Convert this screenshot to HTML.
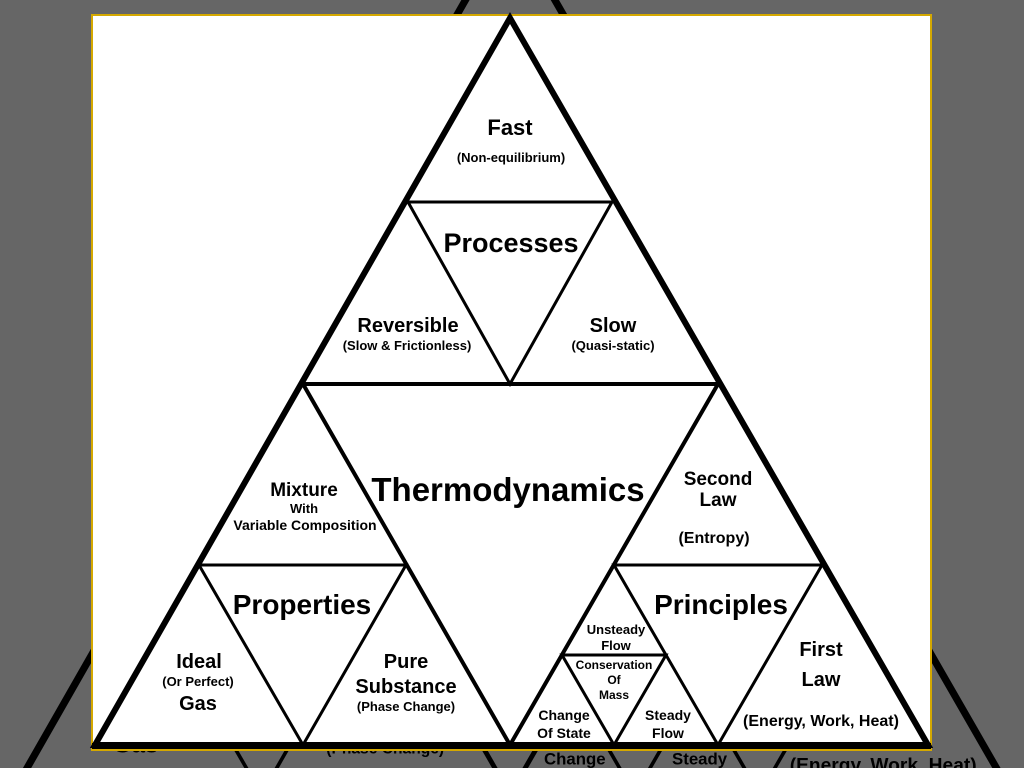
<!DOCTYPE html>
<html><head><meta charset="utf-8"><style>
html,body{margin:0;padding:0;background:#666;width:1024px;height:768px;overflow:hidden}
svg{position:absolute;left:0;top:0}
text{font-family:"Liberation Sans",Arial,sans-serif;font-weight:bold;fill:#000;text-anchor:middle}
</style></head><body>
<svg width="1024" height="768" viewBox="0 0 1024 768">
<defs>
<clipPath id="c"><rect x="0" y="0" width="1024" height="768"/></clipPath>
<g id="d">
<g fill="none" stroke="#000" stroke-linejoin="miter">
<polygon points="510,18 95,745 928,745" stroke-width="6"/>
<polygon points="303,384 718,384 510,745" stroke-width="4"/>
<polygon points="408,202 612,202 510,384" stroke-width="3"/>
<polygon points="199,565 406,565 303,745" stroke-width="3"/>
<polygon points="614,565 822,565 718,745" stroke-width="3"/>
<polygon points="562,655 666,655 614,745" stroke-width="3"/>
<line x1="92" y1="746" x2="931" y2="746" stroke-width="6"/>
</g>
<text x="510" y="135" font-size="22">Fast</text>
<text x="511" y="162" font-size="13">(Non-equilibrium)</text>
<text x="511" y="252" font-size="27">Processes</text>
<text x="408" y="332" font-size="20">Reversible</text>
<text x="407" y="350" font-size="13">(Slow &amp; Frictionless)</text>
<text x="613" y="332" font-size="20">Slow</text>
<text x="613" y="350" font-size="13">(Quasi-static)</text>
<text x="508" y="501" font-size="33">Thermodynamics</text>
<text x="304" y="496" font-size="19">Mixture</text>
<text x="304" y="513" font-size="13">With</text>
<text x="305" y="530" font-size="14">Variable Composition</text>
<text x="718" y="485" font-size="19">Second</text>
<text x="718" y="506" font-size="19">Law</text>
<text x="714" y="543" font-size="16">(Entropy)</text>
<text x="302" y="614" font-size="28">Properties</text>
<text x="721" y="614" font-size="28">Principles</text>
<text x="199" y="668" font-size="20">Ideal</text>
<text x="198" y="686" font-size="13">(Or Perfect)</text>
<text x="198" y="710" font-size="20">Gas</text>
<text x="406" y="668" font-size="20">Pure</text>
<text x="406" y="693" font-size="20">Substance</text>
<text x="406" y="711" font-size="13">(Phase Change)</text>
<text x="616" y="634" font-size="13">Unsteady</text>
<text x="616" y="650" font-size="13">Flow</text>
<text x="614" y="669" font-size="12">Conservation</text>
<text x="614" y="684" font-size="12">Of</text>
<text x="614" y="699" font-size="12">Mass</text>
<text x="564" y="720" font-size="14">Change</text>
<text x="564" y="738" font-size="14">Of State</text>
<text x="668" y="720" font-size="14">Steady</text>
<text x="668" y="738" font-size="14">Flow</text>
<text x="821" y="656" font-size="20">First</text>
<text x="821" y="686" font-size="20">Law</text>
<text x="821" y="726" font-size="16">(Energy, Work, Heat)</text>
</g>
</defs>
<g clip-path="url(#c)"><g transform="translate(510,-78) scale(1.2) translate(-510,-18)"><use href="#d"/></g></g>
<rect x="92" y="15" width="839" height="735" fill="#fff" stroke="#d4a800" stroke-width="2"/>
<use href="#d"/>
</svg>
</body></html>
